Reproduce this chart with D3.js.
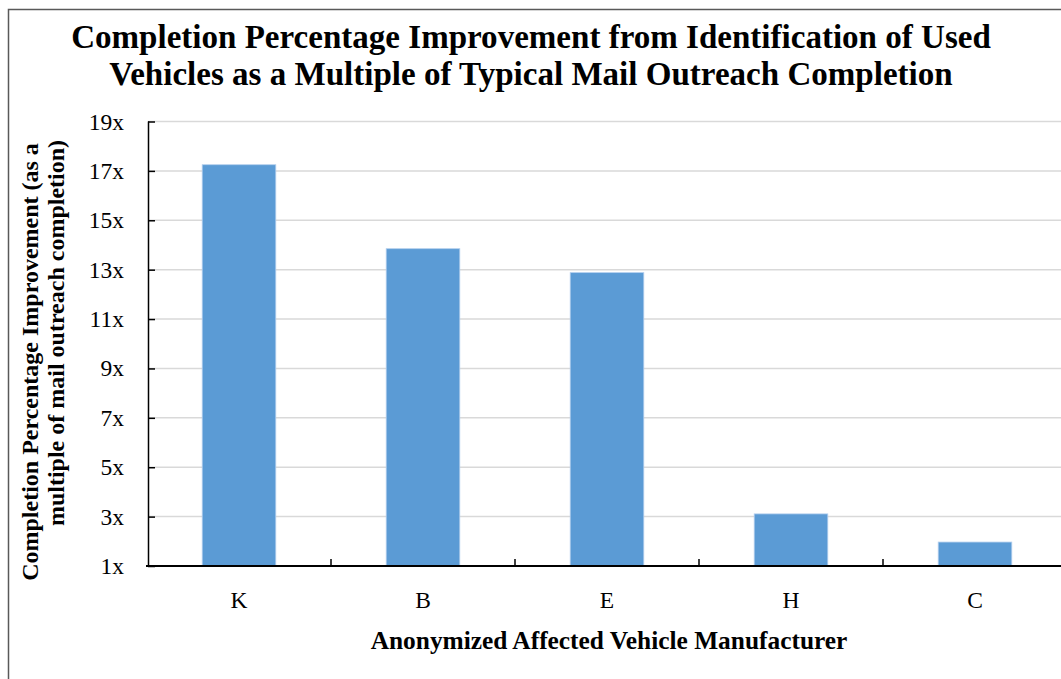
<!DOCTYPE html>
<html>
<head>
<meta charset="utf-8">
<script src="https://cdn.jsdelivr.net/npm/d3@7"></script>
<style>
  html, body { margin: 0; padding: 0; background: #fff; }
  svg { display: block; }
  text { font-family: "Liberation Serif", "Times New Roman", serif; fill: #000; }
</style>
</head>
<body>
<svg id="chart" width="1061" height="679"></svg>
<script>
// Manufacturers (anonymized) and their completion improvement multiples
const categories = ["K", "B", "E", "H", "C"];
const improvement = [17.25, 13.85, 12.88, 3.11, 1.97];
const yTickValues = [1, 3, 5, 7, 9, 11, 13, 15, 17, 19];

const titleLines = [
  "Completion Percentage Improvement from Identification of Used",
  "Vehicles as a Multiple of Typical Mail Outreach Completion"
];
const yTitleLines = [
  "Completion Percentage Improvement (as a",
  "multiple of mail outreach completion)"
];
const xTitle = "Anonymized Affected Vehicle Manufacturer";

const svg = d3.select("#chart");

// Font size at which a text node's string spans the given width
function sizeForWidth(sel, width) {
  const size = parseFloat(sel.attr("font-size"));
  return size * width / sel.node().getComputedTextLength();
}

// Outer chart frame (continues past the right and bottom edges)
svg.append("rect")
  .attr("x", 8.5).attr("y", 9.5)
  .attr("width", 1100).attr("height", 700)
  .attr("fill", "none")
  .attr("stroke", "#595959")
  .attr("stroke-width", 1.5);

const x = d3.scaleBand()
  .domain(categories)
  .range([147, 1067])
  .paddingInner(0.6)
  .paddingOuter(0.3);

const y = d3.scaleLinear()
  .domain([1, 19])
  .range([566, 121.5]);

// Horizontal gridlines
svg.append("g")
  .selectAll("line")
  .data(yTickValues.slice(1))
  .join("line")
  .attr("x1", 148).attr("x2", 1061)
  .attr("y1", d => y(d)).attr("y2", d => y(d))
  .attr("stroke", "#d9d9d9")
  .attr("stroke-width", 1.5);

// Bars
svg.append("g")
  .selectAll("rect")
  .data(categories.map((c, i) => ({ c, v: improvement[i] })))
  .join("rect")
  .attr("x", d => x(d.c))
  .attr("width", x.bandwidth())
  .attr("y", d => y(d.v))
  .attr("height", d => y(1) - y(d.v))
  .attr("fill", "#5b9bd5")
  .attr("stroke", "#b4cfee")
  .attr("stroke-width", 0.8);

// Y axis: inward ticks, labels drawn separately to the left
const yAxis = svg.append("g")
  .attr("transform", "translate(148,0)")
  .call(d3.axisRight(y).tickValues(yTickValues).tickSize(7).tickFormat(""));
yAxis.select(".domain").attr("stroke", "#000").attr("stroke-width", 1.5)
  .attr("d", `M0.5,${y(19)}V${y(1)}`);
yAxis.selectAll(".tick line").attr("stroke", "#000").attr("stroke-width", 1.5);

svg.append("g")
  .selectAll("text")
  .data(yTickValues)
  .join("text")
  .attr("x", 124)
  .attr("y", d => y(d) + 8)
  .attr("text-anchor", "end")
  .attr("font-size", 23.5)
  .text(d => d + "x");

// X axis baseline with tick marks at category boundaries pointing up
svg.append("line")
  .attr("x1", 146).attr("x2", 1061)
  .attr("y1", y(1)).attr("y2", y(1))
  .attr("stroke", "#000").attr("stroke-width", 1.8);

const boundaries = categories.slice(1).map(c => x(c) - x.step() * x.paddingInner() / 2);
svg.append("g")
  .selectAll("line")
  .data(boundaries)
  .join("line")
  .attr("x1", d => d).attr("x2", d => d)
  .attr("y1", y(1)).attr("y2", y(1) - 7)
  .attr("stroke", "#000").attr("stroke-width", 1.5);

svg.append("g")
  .selectAll("text")
  .data(categories)
  .join("text")
  .attr("x", d => x(d) + x.bandwidth() / 2)
  .attr("y", 608)
  .attr("text-anchor", "middle")
  .attr("font-size", 23.5)
  .text(d => d);

// Chart title: both lines share one size, set from the first line's width
const titleBaselines = [48, 85];
const titleText = titleLines.map((t, i) => svg.append("text")
  .attr("x", 531).attr("y", titleBaselines[i])
  .attr("text-anchor", "middle")
  .attr("font-weight", "bold")
  .attr("font-size", 30)
  .text(t));
const titleSize = sizeForWidth(titleText[0], 920);
titleText.forEach(t => t.attr("font-size", titleSize.toFixed(2)));

// X axis title
const xt = svg.append("text")
  .attr("x", 609).attr("y", 649)
  .attr("text-anchor", "middle")
  .attr("font-weight", "bold")
  .attr("font-size", 21)
  .text(xTitle);
xt.attr("font-size", sizeForWidth(xt, 477).toFixed(2));

// Y axis title (two rotated lines)
const yTitleX = [38, 64];
const yTitleCenters = [362, 333];
yTitleLines.forEach((t, i) => {
  svg.append("text")
    .attr("transform", `translate(${yTitleX[i]},${yTitleCenters[i]}) rotate(-90)`)
    .attr("text-anchor", "middle")
    .attr("font-weight", "bold")
    .attr("font-size", 24)
    .text(t);
});
</script>
</body>
</html>
